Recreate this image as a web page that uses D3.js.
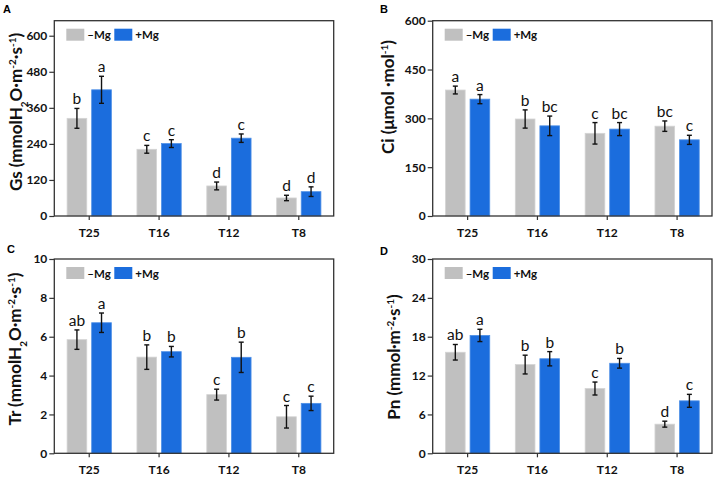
<!DOCTYPE html>
<html>
<head>
<meta charset="utf-8">
<script src="https://cdn.jsdelivr.net/npm/d3@7/dist/d3.min.js"></script>
<style>
  body { margin: 0; background: #fff; }
  svg { display: block; }
</style>
</head>
<body>
<svg id="chart" width="715" height="480"></svg>
<script>
// ---- data ----
const categories = ["T25", "T16", "T12", "T8"];
const series = ["–Mg", "+Mg"];

const gsMinus = [325, 222, 100, 60];
const gsMinusErr = [33, 13, 13, 9];
const gsPlus = [420, 241, 259, 81];
const gsPlusErr = [45, 13, 14, 16];
const gsLetters = [["b", "a"], ["c", "c"], ["d", "c"], ["d", "d"]];
const gsTicks = [0, 120, 240, 360, 480, 600];

const ciMinus = [387, 298, 254, 276];
const ciMinusErr = [12, 28, 33, 16];
const ciPlus = [359, 277, 267, 234];
const ciPlusErr = [14, 30, 20, 14];
const ciLetters = [["a", "a"], ["b", "bc"], ["c", "bc"], ["bc", "c"]];
const ciTicks = [0, 150, 300, 450, 600];

const trMinus = [5.85, 4.95, 3.02, 1.88];
const trMinusErr = [0.5, 0.63, 0.28, 0.58];
const trPlus = [6.72, 5.23, 4.94, 2.57];
const trPlusErr = [0.5, 0.27, 0.78, 0.37];
const trLetters = [["ab", "a"], ["b", "b"], ["c", "b"], ["c", "c"]];
const trTicks = [0, 2, 4, 6, 8, 10];

const pnMinus = [15.6, 13.7, 10.0, 4.5];
const pnMinusErr = [1.2, 1.45, 1.0, 0.46];
const pnPlus = [18.2, 14.6, 13.9, 8.1];
const pnPlusErr = [0.95, 1.1, 0.75, 1.0];
const pnLetters = [["ab", "a"], ["b", "b"], ["c", "b"], ["d", "c"]];
const pnTicks = [0, 6, 12, 18, 24, 30];

// ---- style ----
const colors = {"–Mg": "#c0c0c0", "+Mg": "#1b6ddd"};
const strokes = {"–Mg": "#d4d4d4", "+Mg": "#4d8fe6"};
const frameColor = "#333333";
const fontFamily = "Lato, 'Open Sans', sans-serif";

const panels = [
  {id: "A", minus: gsMinus, minusErr: gsMinusErr, plus: gsPlus, plusErr: gsPlusErr,
   letters: gsLetters, ticks: gsTicks, max: 650,
   x0: 54.3, x1: 333.7, y0: 20.7, y1: 216, titleCy: 112, titleX: 22,
   title: [["Gs (mmolH", ""], ["2", "sub"], ["O·m", ""], ["-2", "sup"], ["·s", ""], ["-1", "sup"], [")", ""]],
   labelX: 3, labelY: 13},
  {id: "B", minus: ciMinus, minusErr: ciMinusErr, plus: ciPlus, plusErr: ciPlusErr,
   letters: ciLetters, ticks: ciTicks, max: 600,
   x0: 432.7, x1: 712, y0: 20.7, y1: 216, titleCy: 97, titleX: 394,
   title: [["Ci (μmol ·mol", ""], ["-1", "sup"], [")", ""]],
   labelX: 380, labelY: 13},
  {id: "C", minus: trMinus, minusErr: trMinusErr, plus: trPlus, plusErr: trPlusErr,
   letters: trLetters, ticks: trTicks, max: 10,
   x0: 54.3, x1: 333.7, y0: 259, y1: 453.3, titleCy: 349, titleX: 21,
   title: [["Tr (mmolH", ""], ["2", "sub"], ["O·m", ""], ["-2", "sup"], ["·s", ""], ["-1", "sup"], [")", ""]],
   labelX: 7, labelY: 253},
  {id: "D", minus: pnMinus, minusErr: pnMinusErr, plus: pnPlus, plusErr: pnPlusErr,
   letters: pnLetters, ticks: pnTicks, max: 30,
   x0: 432.7, x1: 712, y0: 259, y1: 453.3, titleCy: 357, titleX: 400,
   title: [["Pn (mmol·m", ""], ["-2", "sup"], ["·s", ""], ["-1", "sup"], [")", ""]],
   labelX: 380, labelY: 255}
];

const svg = d3.select("#chart");

panels.forEach(p => {
  const g = svg.append("g");
  const x = d3.scaleBand().domain(categories).range([p.x0, p.x1]).padding(0);
  const xs = d3.scaleBand().domain(series).range([0, x.bandwidth()]).paddingInner(0.2).paddingOuter(0.52);
  const y = d3.scaleLinear().domain([0, p.max]).range([p.y1, p.y0]);

  const rows = categories.map((c, i) => ({
    cat: c,
    vals: [
      {s: series[0], v: p.minus[i], e: p.minusErr[i], l: p.letters[i][0]},
      {s: series[1], v: p.plus[i], e: p.plusErr[i], l: p.letters[i][1]}
    ]
  }));

  // bars
  const cg = g.selectAll("g.cat").data(rows).enter().append("g")
    .attr("transform", d => `translate(${x(d.cat)},0)`);
  cg.selectAll("rect").data(d => d.vals).enter().append("rect")
    .attr("x", d => xs(d.s))
    .attr("width", xs.bandwidth())
    .attr("y", d => y(d.v))
    .attr("height", d => y(0) - y(d.v))
    .attr("fill", d => colors[d.s])
    .attr("stroke", d => strokes[d.s])
    .attr("stroke-width", 0.8);

  // error bars
  const eg = cg.selectAll("g.err").data(d => d.vals).enter().append("g")
    .attr("stroke", "#111").attr("stroke-width", 1.4);
  eg.append("line")
    .attr("x1", d => xs(d.s) + xs.bandwidth() / 2)
    .attr("x2", d => xs(d.s) + xs.bandwidth() / 2)
    .attr("y1", d => y(d.v + d.e))
    .attr("y2", d => y(d.v - d.e));
  [1, -1].forEach(sg => {
    eg.append("line")
      .attr("x1", d => xs(d.s) + xs.bandwidth() / 2 - 2.5)
      .attr("x2", d => xs(d.s) + xs.bandwidth() / 2 + 2.5)
      .attr("y1", d => y(d.v + sg * d.e))
      .attr("y2", d => y(d.v + sg * d.e));
  });

  // letters
  cg.selectAll("text.lt").data(d => d.vals).enter().append("text")
    .attr("x", d => xs(d.s) + xs.bandwidth() / 2)
    .attr("y", d => y(d.v + d.e) - 4)
    .attr("text-anchor", "middle")
    .attr("font-family", fontFamily)
    .attr("font-size", 15.5)
    .attr("fill", "#111")
    .text(d => d.l);

  // axes
  const yAxis = d3.axisLeft(y).tickValues(p.ticks).tickSize(5).tickPadding(2);
  const ya = g.append("g").attr("transform", `translate(${p.x0},0)`).call(yAxis);
  const xAxis = d3.axisBottom(x).tickSize(4).tickPadding(8);
  const xa = g.append("g").attr("transform", `translate(0,${p.y1})`).call(xAxis);
  [ya, xa].forEach(a => {
    a.select(".domain").remove();
    a.selectAll(".tick line").attr("stroke", frameColor).attr("stroke-width", 1.2);
    a.selectAll(".tick text").attr("font-family", fontFamily).attr("font-weight", "bold")
      .attr("font-size", 12).attr("fill", "#111");
  });

  // frame
  g.append("rect")
    .attr("x", p.x0).attr("y", p.y0)
    .attr("width", p.x1 - p.x0).attr("height", p.y1 - p.y0)
    .attr("fill", "none").attr("stroke", frameColor).attr("stroke-width", 1.3);

  // legend
  const lg = g.append("g").attr("transform", `translate(${p.x0 + 12},${p.y0 + 8})`);
  const legendItems = [{s: series[0], dx: 0}, {s: series[1], dx: 48}];
  legendItems.forEach(it => {
    lg.append("rect").attr("x", it.dx).attr("y", 0).attr("width", 18).attr("height", 12)
      .attr("fill", colors[it.s]);
    lg.append("text").attr("x", it.dx + 21).attr("y", 10.5)
      .attr("font-family", fontFamily).attr("font-weight", "bold").attr("font-size", 11.5)
      .attr("fill", "#111").text(it.s);
  });

  // y title
  const t = g.append("text")
    .attr("transform", `translate(${p.titleX},${p.titleCy}) rotate(-90)`)
    .attr("text-anchor", "middle")
    .attr("font-family", fontFamily).attr("font-weight", "bold").attr("font-size", 17)
    .attr("fill", "#111");
  p.title.forEach(([txt, kind]) => {
    const ts = t.append("tspan").text(txt);
    if (kind === "sup") ts.attr("baseline-shift", "super").attr("font-size", 10);
    if (kind === "sub") ts.attr("baseline-shift", "sub").attr("font-size", 10);
  });

  // panel label
  g.append("text").attr("x", p.labelX).attr("y", p.labelY)
    .attr("font-family", "'Liberation Sans', Arial, sans-serif").attr("font-weight", "bold")
    .attr("font-size", 11).attr("fill", "#000").text(p.id);
});
</script>
</body>
</html>
